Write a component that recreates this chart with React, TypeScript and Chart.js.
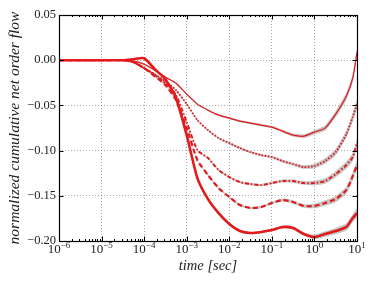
import React, { useEffect, useRef } from "react";
import { Chart, registerables } from "chart.js";

Chart.register(...registerables);

// time in seconds (log-spaced samples)
const times = [
  1e-6, 1e-5, 3.16e-5, 5.62e-5, 1e-4, 1.78e-4, 3.16e-4, 5.62e-4, 1e-3, 1.78e-3,
  3.16e-3, 5.62e-3, 1e-2, 1.78e-2, 3.16e-2, 5.62e-2, 0.1, 0.178, 0.316, 0.562,
  1, 1.78, 3.16, 5.62, 7.94, 10,
];

const flowThin = [
  0, 0, 0, -0.0011, -0.0044, -0.0111, -0.0188, -0.0254, -0.0376, -0.0486,
  -0.0553, -0.0608, -0.0641, -0.0674, -0.0696, -0.0718, -0.074, -0.0785, -0.0829, -0.084,
  -0.0796, -0.0751, -0.0597, -0.0398, -0.0199, 0.0088,
];
const flowDotted = [
  0, 0, 0, -0.0022, -0.0088, -0.0155, -0.0232, -0.0332, -0.0486, -0.0663,
  -0.0774, -0.0862, -0.0917, -0.0972, -0.1017, -0.105, -0.1072, -0.1116, -0.1149, -0.1182,
  -0.1171, -0.1116, -0.1017, -0.0818, -0.063, -0.0486,
];
const flowDashDot = [
  0, 0, 0, -0.0022, -0.0088, -0.0166, -0.0254, -0.0387, -0.0685, -0.0994,
  -0.1083, -0.1215, -0.1293, -0.1348, -0.137, -0.1381, -0.1359, -0.1337, -0.1337, -0.1359,
  -0.1359, -0.1337, -0.126, -0.116, -0.1072, -0.0917,
];
const flowDashed = [
  0, 0, 0, -0.0022, -0.0088, -0.0177, -0.0276, -0.0442, -0.0751, -0.1105,
  -0.1271, -0.1415, -0.1514, -0.1602, -0.1635, -0.1624, -0.158, -0.1547, -0.1569, -0.1613,
  -0.1613, -0.158, -0.1536, -0.1437, -0.1282, -0.116,
];
const flowThick = [
  0, 0, 0, 0.0011, 0.0022, -0.0099, -0.021, -0.042, -0.0829, -0.1304,
  -0.1536, -0.1691, -0.1812, -0.189, -0.1912, -0.1901, -0.1879, -0.1845, -0.1856, -0.1923,
  -0.1956, -0.1923, -0.189, -0.1845, -0.1746, -0.1691,
];
// half-width of grey confidence band
const bandHalfWidth = [
  0, 0, 0, 0.0008, 0.001, 0.001, 0.001, 0.001, 0.001, 0.001,
  0.001, 0.001, 0.0012, 0.0012, 0.0012, 0.0013, 0.0014, 0.0016, 0.0018, 0.002,
  0.0025, 0.003, 0.0035, 0.004, 0.0045, 0.005,
];

const xTickValues = [1e-6, 1e-5, 1e-4, 1e-3, 1e-2, 1e-1, 1, 10];
const xTickExponents = ["\u22126", "\u22125", "\u22124", "\u22123", "\u22122", "\u22121", "0", "1"];
const xMinorMultipliers = [2, 3, 4, 5, 6, 7, 8, 9];
const yTickValues = [-0.2, -0.15, -0.1, -0.05, 0, 0.05];

const RED = "#e31a1c";
const BAND = "rgba(150,150,150,0.55)";
const FONT = "'Liberation Serif', 'DejaVu Serif', serif";

const seriesDefs = [
  { name: "thin", values: flowThin, width: 1.2, dash: [] as number[] },
  { name: "dotted", values: flowDotted, width: 1.8, dash: [1.6, 1.6] },
  { name: "dashdot", values: flowDashDot, width: 2.0, dash: [4, 2, 1.5, 2] },
  { name: "dashed", values: flowDashed, width: 2.2, dash: [5, 3] },
  { name: "thick", values: flowThick, width: 2.6, dash: [] as number[] },
];

const framePlugin = {
  id: "frame",
  afterDraw(chart: any) {
    const { ctx, chartArea: a, scales } = chart;
    const xs = scales.x;
    const ys = scales.y;
    ctx.save();
    ctx.strokeStyle = "#000";
    ctx.lineWidth = 1;
    ctx.beginPath();
    // x ticks (major + minor), inward, bottom and top
    for (let i = 0; i < xTickValues.length; i++) {
      const v = xTickValues[i];
      const px = Math.round(xs.getPixelForValue(v)) + 0.5;
      ctx.moveTo(px, a.bottom);
      ctx.lineTo(px, a.bottom - 4.5);
      ctx.moveTo(px, a.top);
      ctx.lineTo(px, a.top + 4.5);
      if (i < xTickValues.length - 1) {
        for (const m of xMinorMultipliers) {
          const mx = Math.round(xs.getPixelForValue(v * m)) + 0.5;
          ctx.moveTo(mx, a.bottom);
          ctx.lineTo(mx, a.bottom - 2);
          ctx.moveTo(mx, a.top);
          ctx.lineTo(mx, a.top + 2);
        }
      }
    }
    for (const v of yTickValues) {
      const py = Math.round(ys.getPixelForValue(v)) + 0.5;
      ctx.moveTo(a.left, py);
      ctx.lineTo(a.left + 4.5, py);
      ctx.moveTo(a.right, py);
      ctx.lineTo(a.right - 4.5, py);
    }
    ctx.stroke();
    ctx.lineWidth = 1.2;
    ctx.strokeRect(Math.round(a.left) + 0.5, Math.round(a.top) + 0.5, Math.round(a.right - a.left), Math.round(a.bottom - a.top));

    // x tick labels: 10 with superscript exponent
    ctx.fillStyle = "#222";
    ctx.textBaseline = "alphabetic";
    ctx.textAlign = "left";
    const baseFont = `13px ${FONT}`;
    const expFont = `9px ${FONT}`;
    for (let i = 0; i < xTickValues.length; i++) {
      const px = xs.getPixelForValue(xTickValues[i]);
      ctx.font = baseFont;
      const w1 = ctx.measureText("10").width;
      ctx.font = expFont;
      const w2 = ctx.measureText(xTickExponents[i]).width;
      const start = px - (w1 + w2) / 2;
      ctx.font = baseFont;
      ctx.fillText("10", start, a.bottom + 12);
      ctx.font = expFont;
      ctx.fillText(xTickExponents[i], start + w1, a.bottom + 6.5);
    }
    ctx.restore();
  },
};

export default function App() {
  const ref = useRef<HTMLCanvasElement | null>(null);
  useEffect(() => {
    if (!ref.current) return;
    const datasets: any[] = [];
    for (const s of seriesDefs) {
      datasets.push({
        label: s.name + " low",
        data: times.map((t, i) => ({ x: t, y: s.values[i] - bandHalfWidth[i] })),
        borderWidth: 0,
        borderColor: "rgba(0,0,0,0)",
        pointRadius: 0,
        fill: false,
        tension: 0.2,
        order: 10,
      });
      datasets.push({
        label: s.name + " high",
        data: times.map((t, i) => ({ x: t, y: s.values[i] + bandHalfWidth[i] })),
        borderWidth: 0,
        borderColor: "rgba(0,0,0,0)",
        backgroundColor: BAND,
        pointRadius: 0,
        fill: "-1",
        tension: 0.2,
        order: 10,
      });
    }
    for (const s of seriesDefs) {
      datasets.push({
        label: s.name,
        data: times.map((t, i) => ({ x: t, y: s.values[i] })),
        borderColor: RED,
        borderWidth: s.width,
        borderDash: s.dash,
        pointRadius: 0,
        fill: false,
        tension: 0.2,
        order: 0,
      });
    }
    const chart = new Chart(ref.current, {
      type: "line",
      data: { datasets },
      options: {
        animation: false,
        responsive: false,
        layout: { padding: { top: 15, right: 17, left: 0, bottom: 0 } },
        plugins: { legend: { display: false }, tooltip: { enabled: false } },
        scales: {
          x: {
            type: "logarithmic",
            min: 1e-6,
            max: 10,
            afterBuildTicks: (s: any) => {
              s.ticks = xTickValues.map((v) => ({ value: v }));
            },
            afterFit: (s: any) => {
              s.height = 41;
            },
            ticks: { display: false },
            grid: { color: "rgba(0,0,0,0.42)", lineWidth: 0.8, drawTicks: false },
            border: { display: false, dash: [1, 2] },
            title: {
              display: true,
              text: "time [sec]",
              font: { family: FONT, size: 14.5, style: "italic" },
              color: "#222",
              padding: { top: 0, bottom: 7 },
            },
          },
          y: {
            type: "linear",
            min: -0.2,
            max: 0.05,
            afterBuildTicks: (s: any) => {
              s.ticks = yTickValues.map((v) => ({ value: v }));
            },
            afterFit: (s: any) => {
              s.width = 59;
            },
            ticks: {
              padding: 3,
              color: "#222",
              font: { family: FONT, size: 12.5 },
              callback: (v: any) => {
                const n = Number(v);
                const t = Math.abs(n).toFixed(2);
                return n < -1e-9 ? "\u2212" + t : t;
              },
            },
            grid: { color: "rgba(0,0,0,0.42)", lineWidth: 0.8, drawTicks: false },
            border: { display: false, dash: [1, 2] },
            title: {
              display: true,
              text: "normalized cumulative net order flow",
              font: { family: FONT, size: 15.5, style: "italic" },
              color: "#222",
              padding: { top: 6, bottom: 0 },
            },
          },
        },
      },
      plugins: [framePlugin],
    });
    return () => chart.destroy();
  }, []);
  return (
    <div style={{ position: "absolute", left: 0, top: 0, width: 374, height: 282, background: "#fff" }}>
      <canvas ref={ref} width={374} height={282} />
    </div>
  );
}
